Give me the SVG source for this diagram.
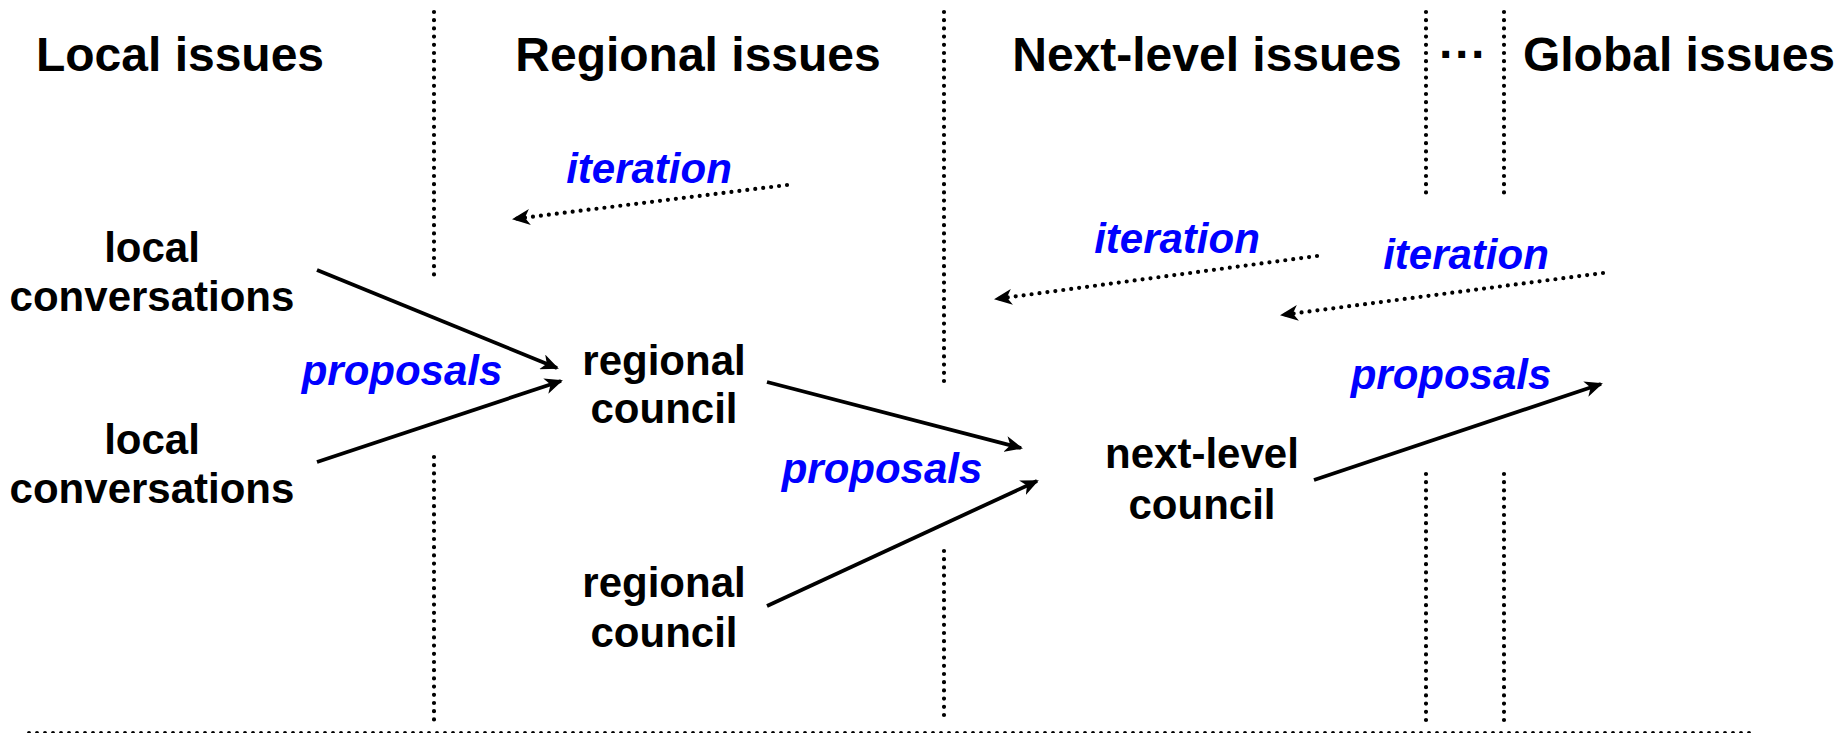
<svg xmlns="http://www.w3.org/2000/svg" width="1848" height="733" viewBox="0 0 1848 733">
<style>
.h{font-family:"Liberation Sans",Arial,sans-serif;font-weight:bold;font-size:48px;fill:#000;text-anchor:middle}
.n{font-family:"Liberation Sans",Arial,sans-serif;font-weight:bold;font-size:42px;fill:#000;text-anchor:middle}
.l{font-family:"Liberation Sans",Arial,sans-serif;font-weight:bold;font-style:italic;font-size:42px;fill:#0000FF;text-anchor:middle}
.sep{stroke:#000;stroke-width:4.2;stroke-linecap:round;stroke-dasharray:0 8.2;fill:none}
.base{stroke:#000;stroke-width:4;stroke-linecap:round;stroke-dasharray:0 8;fill:none}
.a{stroke:#000;stroke-width:3.8;fill:none;marker-end:url(#ah)}
.d{stroke:#000;stroke-width:4.2;stroke-linecap:round;stroke-dasharray:0 8;fill:none;marker-end:url(#ah)}
</style>
<defs>
<marker id="ah" markerUnits="userSpaceOnUse" markerWidth="18" markerHeight="16" refX="16" refY="8" orient="auto" viewBox="0 0 18 16">
<path d="M0,0 L18,8 L0,16 L5,8 z" fill="#000"/>
</marker>
</defs>
<rect width="1848" height="733" fill="#fff"/>
<g id="separators">
<line class="sep" x1="434" y1="12" x2="434" y2="278"/>
<line class="sep" x1="434" y1="457" x2="434" y2="723"/>
<line class="sep" x1="944" y1="12" x2="944" y2="389"/>
<line class="sep" x1="944" y1="551" x2="944" y2="723"/>
<line class="sep" x1="1426" y1="12" x2="1426" y2="194"/>
<line class="sep" x1="1426" y1="474" x2="1426" y2="723"/>
<line class="sep" x1="1504" y1="12" x2="1504" y2="194"/>
<line class="sep" x1="1504" y1="474" x2="1504" y2="723"/>
<line class="base" x1="29" y1="733" x2="1756" y2="733"/>
</g>
<g id="headers">
<text class="h" x="180" y="71">Local issues</text>
<text class="h" x="698" y="71">Regional issues</text>
<text class="h" x="1207" y="71">Next-level issues</text>
<text class="h" x="1463" y="71">···</text>
<text class="h" x="1679" y="71">Global issues</text>
</g>
<g id="local1"><text class="n" x="152" y="262">local</text><text class="n" x="152" y="311">conversations</text></g>
<g id="local2"><text class="n" x="152" y="454">local</text><text class="n" x="152" y="503">conversations</text></g>
<g id="regional1"><text class="n" x="664" y="375">regional</text><text class="n" x="664" y="423">council</text></g>
<g id="regional2"><text class="n" x="664" y="597">regional</text><text class="n" x="664" y="647">council</text></g>
<g id="nextlevel"><text class="n" x="1202" y="468">next-level</text><text class="n" x="1202" y="519">council</text></g>
<g id="connectors">
<line class="a" x1="317" y1="270" x2="557" y2="368"/>
<line class="a" x1="317" y1="462" x2="561" y2="381"/>
<line class="a" x1="767" y1="382" x2="1021" y2="448"/>
<line class="a" x1="767" y1="606" x2="1037" y2="481"/>
<line class="a" x1="1314" y1="480" x2="1601" y2="384"/>
<line class="d" x1="787" y1="185" x2="514" y2="219"/>
<line class="d" x1="1317" y1="256" x2="996" y2="299"/>
<line class="d" x1="1603" y1="273" x2="1282" y2="315"/>
</g>
<g id="labels">
<text class="l" x="402" y="385">proposals</text>
<text class="l" x="882" y="483">proposals</text>
<text class="l" x="1451" y="389">proposals</text>
<text class="l" x="649" y="183">iteration</text>
<text class="l" x="1177" y="253">iteration</text>
<text class="l" x="1466" y="269">iteration</text>
</g>
</svg>
